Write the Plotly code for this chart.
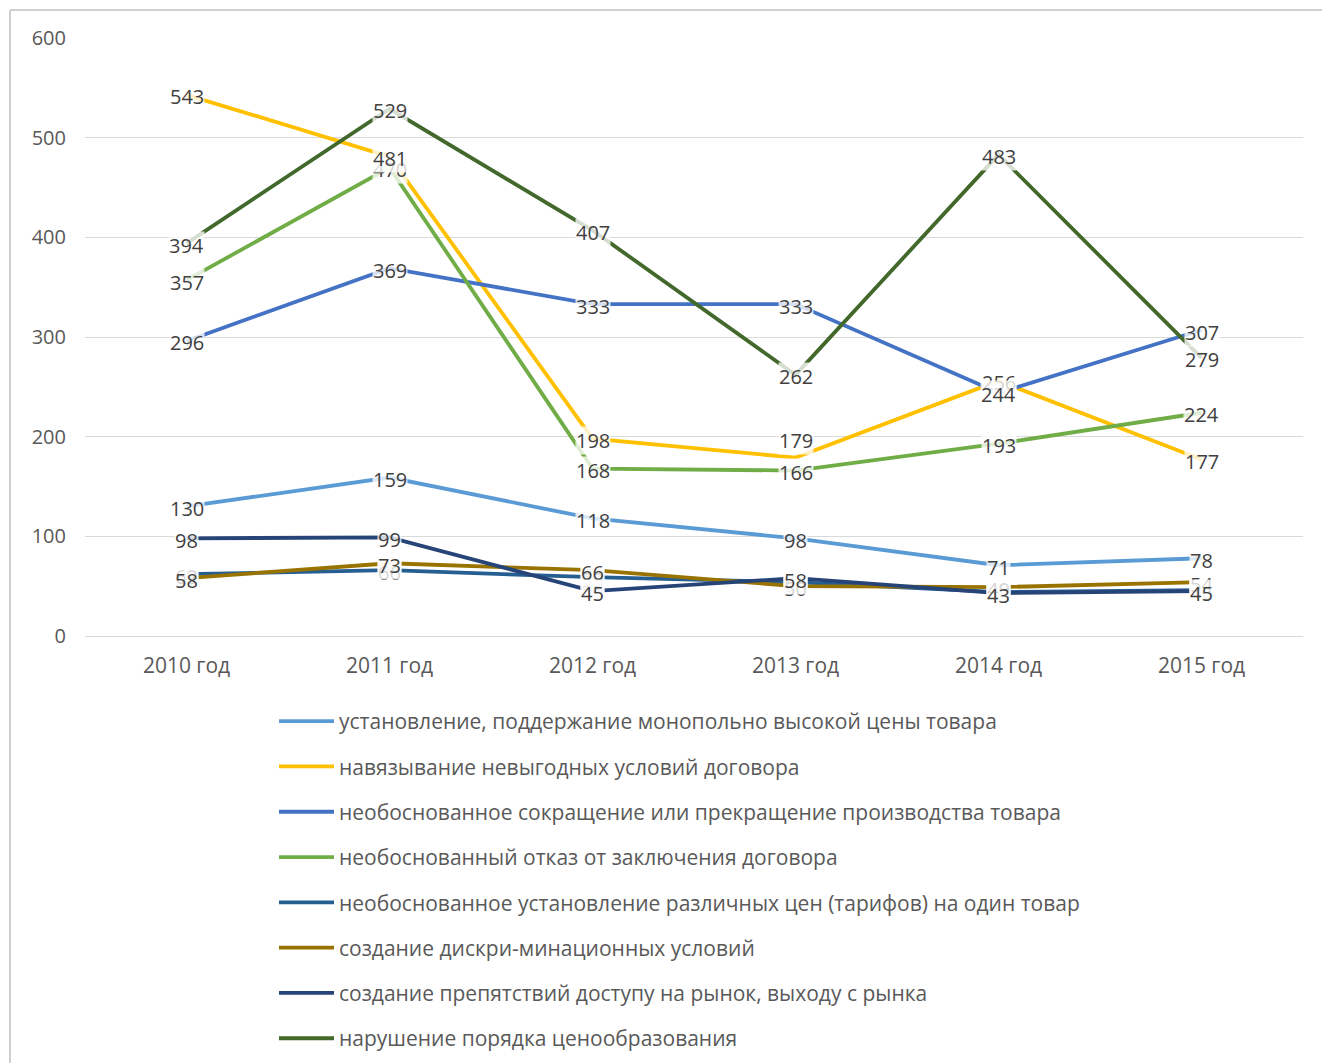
import plotly.graph_objects as go

# Years on the category axis
years = ["2010 год", "2011 год", "2012 год", "2013 год", "2014 год", "2015 год"]

# Number of cases per type of abuse of dominant position
monopoly_price = [130, 159, 118, 98, 71, 78]
unfavorable_terms = [543, 481, 198, 179, 256, 177]
production_cut = [296, 369, 333, 333, 244, 307]
contract_refusal = [357, 470, 168, 166, 193, 224]
price_discrimination = [62, 66, 59, 54, 44, 46]
discriminatory_terms = [58, 73, 66, 50, 49, 54]
market_barriers = [98, 99, 45, 58, 43, 45]
pricing_violation = [394, 529, 407, 262, 483, 279]

series_names = [
    "установление, поддержание монопольно высокой цены товара",
    "навязывание невыгодных условий договора",
    "необоснованное сокращение или прекращение производства товара",
    "необоснованный отказ от заключения договора",
    "необоснованное установление различных цен (тарифов) на один товар",
    "создание дискри-минационных условий",
    "создание препятствий доступу на рынок, выходу с рынка",
    "нарушение порядка ценообразования",
]
series_values = [
    monopoly_price, unfavorable_terms, production_cut, contract_refusal,
    price_discrimination, discriminatory_terms, market_barriers, pricing_violation,
]
series_colors = [
    "#5B9BD5", "#FFC000", "#4472C4", "#70AD47",
    "#255E91", "#997300", "#264478", "#43682B",
]

FONT = "Open Sans"
TEXT_GREY = "#595959"

fig = go.Figure()
for i, (name, vals, col) in enumerate(zip(series_names, series_values, series_colors)):
    fig.add_trace(go.Scatter(
        x=years, y=vals, name=name, mode="lines",
        line=dict(color=col, width=3.8),
        legendgroup=f"g{i}",
        hoverinfo="skip",
    ))

# Value labels on white boxes, centred on each point;
# one label is lifted above its point so it does not collide with its neighbour
label_order = [0, 3, 1, 2, 4, 5, 6, 7]
label_lift = {(1, 3): 19}
annotations = []
for i in label_order:
    for j, (yr, v) in enumerate(zip(years, series_values[i])):
        annotations.append(dict(
            x=yr, y=v, xref="x", yref="y", text=str(v), showarrow=False,
            xanchor="center", yanchor="middle", yshift=-2 + label_lift.get((i, j), 0),
            font=dict(family=FONT, size=20, color="#404040"),
            bgcolor="rgba(255,255,255,0.78)", borderpad=0,
        ))

plot_left, plot_right, plot_top, plot_bottom = 85, 1303, 38, 636
pw = plot_right - plot_left
ph = plot_bottom - plot_top

shapes = [
    # outer frame of the chart area
    dict(type="line", xref="paper", yref="paper",
         x0=(10 - plot_left) / pw, x1=(10 - plot_left) / pw,
         y0=(plot_bottom - 10) / ph, y1=(plot_bottom - 1063) / ph,
         line=dict(color="#D0D0D0", width=2)),
    dict(type="line", xref="paper", yref="paper",
         x0=(10 - plot_left) / pw, x1=(1322 - plot_left) / pw,
         y0=(plot_bottom - 10) / ph, y1=(plot_bottom - 10) / ph,
         line=dict(color="#D0D0D0", width=2)),
]

fig.update_layout(
    width=1322, height=1063,
    margin=dict(l=plot_left, r=1322 - plot_right, t=plot_top, b=1063 - plot_bottom,
                autoexpand=False),
    paper_bgcolor="white", plot_bgcolor="white",
    font=dict(family=FONT, color=TEXT_GREY),
    showlegend=True,
    legend=dict(
        orientation="v", traceorder="grouped", tracegroupgap=15,
        x=(274 - plot_left) / pw, xanchor="left",
        y=(plot_bottom - 701) / ph, yanchor="top",
        font=dict(family=FONT, size=21, color=TEXT_GREY),
        bgcolor="rgba(0,0,0,0)", itemwidth=55,
    ),
    xaxis=dict(
        type="category", range=[-0.5, 5.5], showgrid=False, zeroline=False,
        showline=False, ticks="", tickfont=dict(family=FONT, size=21, color=TEXT_GREY),
        ticklabelstandoff=15,
    ),
    yaxis=dict(
        range=[0, 600], dtick=100, showgrid=True, gridcolor="#D9D9D9", gridwidth=1,
        zeroline=True, zerolinecolor="#D9D9D9", zerolinewidth=1, showline=False,
        ticks="", tickfont=dict(family=FONT, size=20, color=TEXT_GREY),
        ticklabelstandoff=18,
    ),
    annotations=annotations,
    shapes=shapes,
)

fig.write_html("out.html")
